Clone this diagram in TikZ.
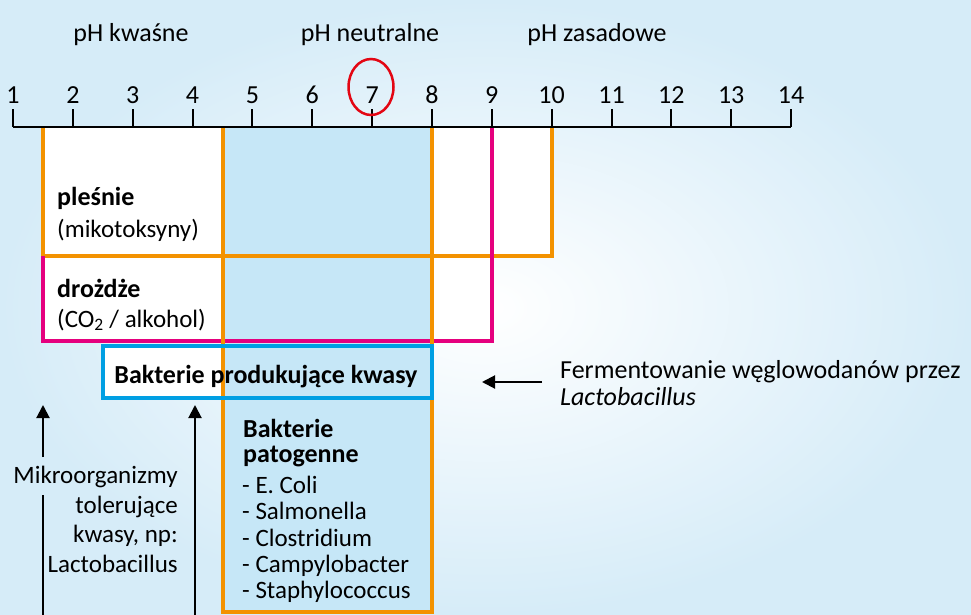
\documentclass[tikz,border=0pt]{standalone}
\usepackage{fontspec}
\setmainfont{Carlito}
\usetikzlibrary{arrows.meta}

\definecolor{orangeph}{RGB}{243,146,0}
\definecolor{magentaph}{RGB}{229,0,126}
\definecolor{blueph}{RGB}{0,159,227}
\definecolor{columnph}{RGB}{198,231,247}
\definecolor{bgph}{RGB}{214,236,248}
\definecolor{redph}{RGB}{227,6,19}

\tikzset{
  txt/.style={font=\fontsize{25}{29}\selectfont, inner sep=0pt},
  txtl/.style={font=\fontsize{26}{30}\selectfont, inner sep=0pt},
  txtb/.style={font=\fontsize{26}{30}\selectfont\bfseries, inner sep=0pt},
  rahmen/.style={line width=4pt},
  pfeil/.style={-{Triangle[length=13pt,width=13pt]}, line width=2pt},
}

\begin{document}
\begin{tikzpicture}[x=1pt,y=-1pt]
	\useasboundingbox (0,0) rectangle (971,615);
	\shade[inner color=white, outer color=bgph] (0,0) rectangle (971,615);
	% white boxes and the blue column
	\fill[white] (43,127) rectangle (492,341);
	\fill[white] (43,127) rectangle (552,256);
	\fill[white] (103,346) rectangle (432,398);
	\fill[columnph] (223,127) rectangle (432,612);
	% box frames
	\draw[rahmen, orangeph] (43,127) -- (43,256) -- (552,256) -- (552,127);
	\draw[rahmen, magentaph] (43,256) -- (43,341) -- (492,341) -- (492,127);
	\draw[rahmen, orangeph] (223,127) -- (223,612) -- (432,612) -- (432,127);
	\draw[rahmen, blueph] (103,346) rectangle (432,398);
	% pH axis
	\coordinate (A) at (13,127);
	\coordinate (B) at (791,127);
	\draw[line width=2.5pt] (A) -- (B);
	\foreach \n in {1,...,14} {
		\pgfmathsetmacro\xx{13+59.85*(\n-1)}
		\draw[line width=2pt] (\xx,127) -- (\xx,109);
		\node[txtl, anchor=base] (n\n) at (\xx,104) {\n};
	}
	\draw[redph, line width=2.5pt] (371,87) ellipse [x radius=22.5, y radius=28];
	\node[txtl, anchor=base] (kwasne) at (131,42) {pH kwaśne};
	\node[txtl, anchor=base] (neutralne) at (370,42) {pH neutralne};
	\node[txtl, anchor=base] (zasadowe) at (597,42) {pH zasadowe};
	% texts in the boxes
	\node[txtb, anchor=base west] (plesnie) at (57,205) {pleśnie};
	\node[txt, anchor=base west] (mykotox) at (57,237) {(mikotoksyny)};
	\node[txtb, anchor=base west] (drozdze) at (57,297) {drożdże};
	\node[txt, anchor=base west] (alkohol) at (57,327) {(CO\textsubscript{2} / alkohol)};
	\node[txtb, anchor=base] (kwasy) at (266,383) {Bakterie produkujące kwasy};
	\node[txtb, anchor=base west] (pat1) at (243,437) {Bakterie};
	\node[txtb, anchor=base west] (pat2) at (243,462) {patogenne};
	\node[txt, anchor=base west] (coli) at (242,493) {- E. Coli};
	\node[txt, anchor=base west] (salm) at (242,519) {- Salmonella};
	\node[txt, anchor=base west] (clos) at (242,546) {- Clostridium};
	\node[txt, anchor=base west] (camp) at (242,572) {- Campylobacter};
	\node[txt, anchor=base west] (staph) at (242,598) {- Staphylococcus};
	% acid tolerant
	\node[txt, anchor=base east] (tol1) at (178,483) {Mikroorganizmy};
	\node[txt, anchor=base east] (tol2) at (178,513) {tolerujące};
	\node[txt, anchor=base east] (tol3) at (178,542) {kwasy, np:};
	\node[txt, anchor=base east] (tol4) at (178,572) {Lactobacillus};
	\coordinate (C) at (43,615);
	\coordinate (D) at (43,495);
	\coordinate (E) at (43,457);
	\coordinate (F) at (43,405);
	\coordinate (G) at (195,615);
	\coordinate (H) at (195,405);
	\draw[line width=2pt] (C) -- (D);
	\draw[pfeil] (E) -- (F);
	\draw[pfeil] (G) -- (H);
	% fermentation
	\node[txtl, anchor=base west] (ferm1) at (560,378) {Fermentowanie węglowodanów przez};
	\node[txtl, anchor=base west] (ferm2) at (560,405) {\itshape Lactobacillus};
	\coordinate (I) at (542,382);
	\coordinate (J) at (482,382);
	\draw[pfeil] (I) -- (J);
\end{tikzpicture}
\end{document}
